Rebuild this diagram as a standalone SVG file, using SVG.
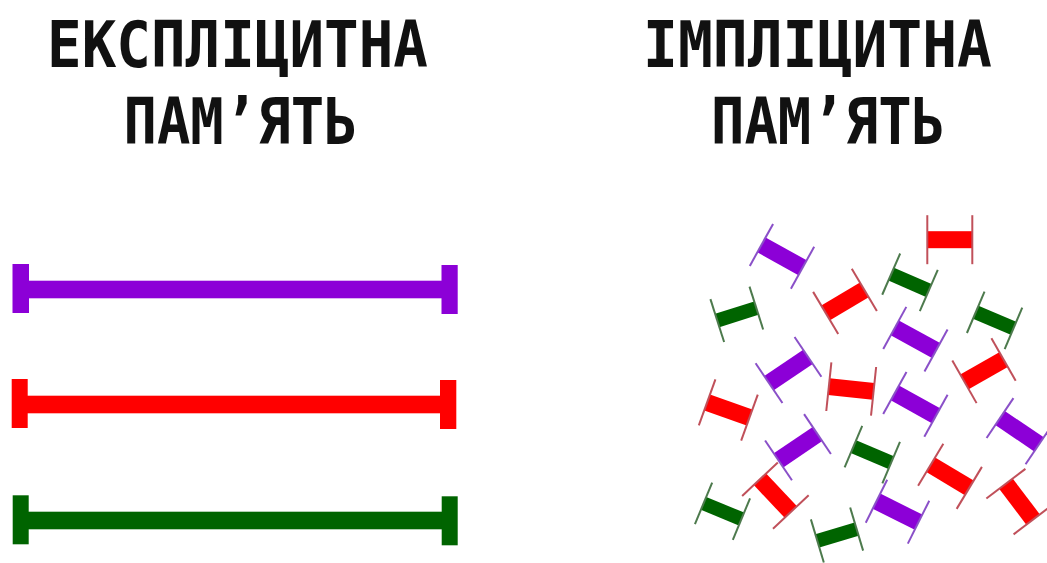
<svg xmlns="http://www.w3.org/2000/svg" xmlns:xlink="http://www.w3.org/1999/xlink" width="1047" height="563" viewBox="0 0 1047 563">
<style>
.t{font-family:"DejaVu Sans Mono","Liberation Mono",monospace;font-weight:bold;font-size:64px;fill:#111;text-anchor:middle}
.pu{fill:#8c00d7}.re{fill:#ff0000}.gr{fill:#006400}
.cr{stroke:#c0505a;stroke-width:2}.cp{stroke:#8a50c8;stroke-width:2}.cg{stroke:#4d7a4d;stroke-width:2}
</style>
<defs>
<g id="R"><rect class="re" x="-22.5" y="-8.5" width="45" height="17"/><line class="cr" x1="-22.5" y1="-24.5" x2="-22.5" y2="24.5"/><line class="cr" x1="22.5" y1="-24.5" x2="22.5" y2="24.5"/></g>
<g id="P"><rect class="pu" x="-23.5" y="-8.5" width="47" height="17"/><line class="cp" x1="-23.5" y1="-24" x2="-23.5" y2="24"/><line class="cp" x1="23.5" y1="-24" x2="23.5" y2="24"/></g>
<g id="G"><rect class="gr" x="-20.5" y="-7" width="41" height="14"/><line class="cg" x1="-20.5" y1="-22.5" x2="-20.5" y2="22.5"/><line class="cg" x1="20.5" y1="-22.5" x2="20.5" y2="22.5"/></g>
</defs>
<rect width="1047" height="563" fill="#fff"/>
<g id="title-explicit">
<text class="t" x="237.5" y="66.5" textLength="381" lengthAdjust="spacingAndGlyphs">ЕКСПЛІЦИТНА</text>
<text class="t" x="240.5" y="144" textLength="234" lengthAdjust="spacingAndGlyphs">ПАМ’ЯТЬ</text>
</g>
<g id="title-implicit">
<text class="t" x="817.5" y="66.5" textLength="349" lengthAdjust="spacingAndGlyphs">ІМПЛІЦИТНА</text>
<text class="t" x="828" y="144" textLength="234" lengthAdjust="spacingAndGlyphs">ПАМ’ЯТЬ</text>
</g>
<g id="explicit-bars">
<g id="bar-purple" class="pu"><rect x="12.5" y="264" width="16.5" height="49"/><rect x="28" y="280.7" width="415" height="17.6"/><rect x="441.5" y="265" width="16.2" height="49"/></g>
<g id="bar-red" class="re"><rect x="11.7" y="379" width="16" height="49"/><rect x="27" y="395.7" width="414" height="17.6"/><rect x="440" y="380" width="16.3" height="49"/></g>
<g id="bar-green" class="gr"><rect x="12.7" y="495.3" width="16" height="49"/><rect x="28" y="511.7" width="415" height="17.6"/><rect x="441.7" y="496.3" width="16" height="49"/></g>
</g>
<g id="implicit-pieces">
<use xlink:href="#R" href="#R" transform="translate(949.8,239.7)"/>
<use xlink:href="#R" href="#R" transform="translate(845,301.4) rotate(-30.8)"/>
<use xlink:href="#R" href="#R" transform="translate(984,370.7) rotate(-29.7)"/>
<use xlink:href="#R" href="#R" transform="translate(851.2,389) rotate(6)"/>
<use xlink:href="#R" href="#R" transform="translate(728.3,410) rotate(19.8)"/>
<use xlink:href="#R" href="#R" transform="translate(950,476.3) rotate(31)"/>
<use xlink:href="#R" href="#R" transform="translate(1019.5,501.6) rotate(52.8)"/>
<use xlink:href="#R" href="#R" transform="translate(775.4,495.6) rotate(46.7)"/>
<use xlink:href="#P" href="#P" transform="translate(782,256.3) rotate(29)"/>
<use xlink:href="#P" href="#P" transform="translate(915.4,339.2) rotate(28.7)"/>
<use xlink:href="#P" href="#P" transform="translate(788.5,370) rotate(-34)"/>
<use xlink:href="#P" href="#P" transform="translate(915.4,404.3) rotate(29)"/>
<use xlink:href="#P" href="#P" transform="translate(1019.5,431.2) rotate(34)"/>
<use xlink:href="#P" href="#P" transform="translate(798,447.2) rotate(-34)"/>
<use xlink:href="#P" href="#P" transform="translate(897.5,511.7) rotate(26.5)"/>
<use xlink:href="#G" href="#G" transform="translate(736.8,314.3) rotate(-17.7)"/>
<use xlink:href="#G" href="#G" transform="translate(910,282.3) rotate(23.5)"/>
<use xlink:href="#G" href="#G" transform="translate(994.6,320.3) rotate(23)"/>
<use xlink:href="#G" href="#G" transform="translate(872.3,454.6) rotate(23)"/>
<use xlink:href="#G" href="#G" transform="translate(722.5,511.2) rotate(22.5)"/>
<use xlink:href="#G" href="#G" transform="translate(837,535) rotate(-16.7)"/>
</g>
</svg>
